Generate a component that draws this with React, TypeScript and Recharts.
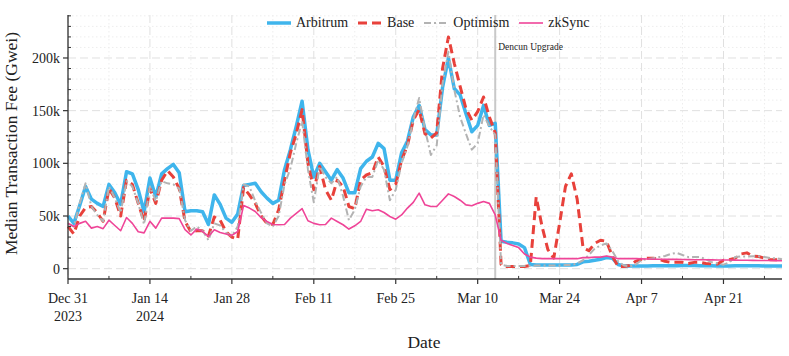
import React from 'react';
import { LineChart, Line, XAxis, YAxis, CartesianGrid, ReferenceLine } from 'recharts';

// median fee per day, in thousands of Gwei, day 0 = Dec 31 2023
const arbitrum = [
  50, 43, 60, 78, 66, 62, 59, 80, 72, 61,
  92, 90, 75, 54, 86, 68, 90, 95, 99, 91,
  54, 55, 55, 54, 42, 70, 61, 48, 44, 52,
  79, 80, 81, 73, 67, 62, 65, 94, 113, 135,
  159, 113, 87, 100, 92, 84, 94, 86, 72, 72,
  95, 102, 106, 119, 114, 84, 84, 110, 121, 144,
  155, 132, 127, 127, 172, 200, 171, 165, 147, 130,
  136, 155, 136, 138, 26, 25, 24.5, 23.5, 20, 4,
  3.5, 3.5, 3.5, 3.5, 3.5, 3.5, 3.5, 4, 6.5, 7,
  8, 9, 10.5, 10, 4, 2.5, 2.5, 2.5, 2.5, 2.5,
  2.8, 2.8, 2.8, 2.8, 2.8, 3, 3, 3, 2.8, 2.8,
  2.8, 2.6, 2.6, 2.6, 2.8, 2.8, 2.8, 2.8, 2.8, 2.6,
  2.6, 2.6, 2.6,
];

const base = [
  40, 33, 50, 58, 59, 53, 45, 76, 67, 50,
  84, 80, 62, 45, 76, 62, 84, 93, 87, 76,
  45, 35, 36, 36, 31, 49, 46, 35, 30, 28,
  77, 70, 62, 50, 43, 42, 56, 84, 110, 128,
  151, 100, 75, 97, 75, 65, 84, 78, 59, 57,
  84, 89, 91, 106, 97, 75, 80, 103, 117, 141,
  151, 128, 124, 129, 190, 220, 195, 173, 152, 141,
  149, 163, 144, 129, 4, 2, 2, 2, 2, 3,
  68, 40, 18, 10, 43, 78, 90, 66, 20, 17,
  24, 27, 26, 12, 2, 2, 3, 7, 9, 10,
  10, 9, 7, 6, 6, 6, 5, 6, 6, 5,
  4.5, 4.5, 8, 8.5, 10, 14, 15, 12, 11.5, 10,
  8.5, 8.5, 8,
];

const optimism = [
  43, 40, 62, 81, 59, 51, 45, 78, 67, 53,
  83, 78, 62, 42, 78, 64, 83, 81, 80, 76,
  46, 36, 40, 36, 27, 43, 41, 34, 31, 40,
  80, 78, 64, 53, 43, 40, 50, 80, 95, 119,
  140, 94, 63, 97, 87, 81, 87, 69, 46, 56,
  78, 87, 87, 103, 94, 65, 75, 100, 116, 141,
  162, 132, 108, 117, 176, 206, 170, 144, 128, 113,
  119, 146, 135, 127, 4, 2.5, 2.5, 2.5, 2.5, 2.5,
  3, 3, 3, 3, 3, 3.5, 3.5, 5, 8, 13,
  19, 22, 24, 17, 7, 3, 2, 4, 8, 9,
  10, 11, 12, 14, 15, 13, 11, 11, 11, 9,
  6, 5, 3.8, 6, 11, 11.7, 11.5, 11.7, 11.7, 11,
  10, 10, 9,
];

const zksync = [
  43, 40, 43, 45, 38.5, 40, 38, 46, 41, 36,
  48.6, 43, 35, 34, 45, 38.5, 48, 48, 48, 47.5,
  37, 32, 37.6, 35.3, 30.6, 37, 34.4, 33, 31.6, 35.3,
  60, 57.5, 54.3, 48.5, 44.8, 42, 41.7, 42, 48, 52.5,
  57, 45.5, 43, 41.7, 42, 48, 44.8, 41.7, 37.6, 40.7,
  44.8, 56.5, 55, 56, 53.3, 49.5, 47, 51, 57.5, 63,
  71.7, 60.6, 59, 59, 65, 71, 68.5, 65, 60.6, 59.7,
  62, 63.7, 62, 51, 27, 24, 22, 20, 14, 11,
  10, 9.5, 9.5, 9.5, 9.5, 9.5, 9.5, 9.5, 10.5, 10.5,
  11, 11, 12, 11, 9.5, 9.5, 9.5, 9.5, 9.3, 9.2,
  9, 9, 9, 8.8, 8.8, 8.7, 8.6, 8.5, 8.5, 8.5,
  8.4, 8.3, 8.2, 8.2, 8.1, 8, 8, 7.9, 7.8, 7.8,
  7.7, 7.6, 7.5,
];

const xMajorTicks = [0, 14, 28, 42, 56, 70, 84, 98, 112];
const xMinorTicks = [7, 21, 35, 49, 63, 77, 91, 105, 119];
const xTickLabels = ['Dec 31', 'Jan 14', 'Jan 28', 'Feb 11', 'Feb 25', 'Mar 10', 'Mar 24', 'Apr 7', 'Apr 21'];
const xTickYears = ['2023', '2024', '', '', '', '', '', '', ''];
const yMajorTicks = [0, 50, 100, 150, 200];
const yMinorTicks = [10, 20, 30, 40, 60, 70, 80, 90, 110, 120, 130, 140, 160, 170, 180, 190, 210, 220, 230, 240];
const dencunDay = 73;

const data = arbitrum.map((v, i) => ({
  day: i,
  arbitrum: v,
  base: base[i],
  optimism: optimism[i],
  zksync: zksync[i],
}));

const font = '"Liberation Serif", "Times New Roman", serif';
const axisColor = '#333';
const textColor = '#222';

const series = [
  { key: 'arbitrum', name: 'Arbitrum', color: '#3fb5ec', width: 3.5, dash: undefined },
  { key: 'base', name: 'Base', color: '#e8413b', width: 3, dash: '9 5' },
  { key: 'optimism', name: 'Optimism', color: '#b3b3b3', width: 2, dash: '7 3 2 3' },
  { key: 'zksync', name: 'zkSync', color: '#ef4598', width: 1.6, dash: undefined },
];

function XTick({ x, y, payload }: any) {
  const i = xMajorTicks.indexOf(payload.value);
  if (i < 0) {
    return <line x1={x} y1={y} x2={x} y2={y - 3} stroke={axisColor} strokeWidth={1} />;
  }
  return (
    <g>
      <line x1={x} y1={y} x2={x} y2={y + 5} stroke={axisColor} strokeWidth={1.2} />
      <text x={x} y={y + 23.7} textAnchor="middle" fontSize={14} fill={textColor} fontFamily={font}>
        {xTickLabels[i]}
      </text>
      {xTickYears[i] && (
        <text x={x} y={y + 41.7} textAnchor="middle" fontSize={14} fill={textColor} fontFamily={font}>
          {xTickYears[i]}
        </text>
      )}
    </g>
  );
}

function YTick({ x, y, payload }: any) {
  const v = payload.value;
  if (!yMajorTicks.includes(v)) {
    return <line x1={x} y1={y} x2={x + 3} y2={y} stroke={axisColor} strokeWidth={1} />;
  }
  return (
    <g>
      <line x1={x - 5} y1={y} x2={x} y2={y} stroke={axisColor} strokeWidth={1.2} />
      <text x={x - 8} y={y + 5} textAnchor="end" fontSize={14} fill={textColor} fontFamily={font}>
        {v === 0 ? '0' : `${v}k`}
      </text>
    </g>
  );
}

function Legend() {
  return (
    <div
      style={{
        position: 'absolute',
        left: 267,
        top: 14,
        display: 'flex',
        alignItems: 'center',
        fontFamily: font,
        fontSize: 14,
        color: textColor,
        lineHeight: '18px',
      }}
    >
      {series.map((s) => (
        <div key={s.key} style={{ display: 'flex', alignItems: 'center', marginRight: 10 }}>
          <svg width={24} height={10} style={{ marginRight: 5 }}>
            <line x1={0} y1={5} x2={24} y2={5} stroke={s.color} strokeWidth={s.width} strokeDasharray={s.dash} />
          </svg>
          <span>{s.name}</span>
        </div>
      ))}
    </div>
  );
}

export default function App() {
  return (
    <div style={{ position: 'absolute', left: 0, top: 0, width: 789, height: 356, background: '#fff' }}>
      <LineChart width={789} height={356} data={data} margin={{ top: 15, right: 7, bottom: 0, left: 0 }}>
        <CartesianGrid
          stroke="#ededed"
          strokeDasharray="1.5 2.5"
          horizontalValues={yMinorTicks}
          verticalValues={xMinorTicks}
        />
        <CartesianGrid
          stroke="#e0e0e0"
          strokeDasharray="8 4"
          horizontalValues={yMajorTicks}
          verticalValues={xMajorTicks}
        />
        <XAxis
          dataKey="day"
          type="number"
          domain={[0, 122]}
          ticks={[...xMajorTicks, ...xMinorTicks].sort((a, b) => a - b)}
          interval={0}
          tickSize={0}
          tickMargin={0}
          tickLine={false}
          tick={(p: any) => <XTick {...p} />}
          height={77}
          axisLine={{ stroke: axisColor, strokeWidth: 1.3 }}
        />
        <YAxis
          type="number"
          domain={[-9.8, 240.8]}
          allowDataOverflow
          ticks={[...yMajorTicks, ...yMinorTicks].sort((a, b) => a - b)}
          interval={0}
          tickSize={0}
          tickMargin={0}
          tickLine={false}
          tick={(p: any) => <YTick {...p} />}
          width={68}
          axisLine={{ stroke: axisColor, strokeWidth: 1.3 }}
        />
        <ReferenceLine
          x={dencunDay}
          stroke="#c8c8c8"
          strokeWidth={2}
          label={(p: any) => (
            <text
              x={p.viewBox.x + 3}
              y={p.viewBox.y + 35}
              fontSize={9.5}
              fill={textColor}
              fontFamily={font}
            >
              Dencun Upgrade
            </text>
          )}
        />
        {series.map((s) => (
          <Line
            key={s.key}
            type="linear"
            dataKey={s.key}
            name={s.name}
            stroke={s.color}
            strokeWidth={s.width}
            strokeDasharray={s.dash}
            strokeLinejoin="round"
            dot={false}
            activeDot={false}
            isAnimationActive={false}
          />
        ))}
      </LineChart>
      <svg width={789} height={356} style={{ position: 'absolute', left: 0, top: 0, pointerEvents: 'none' }}>
        <text
          x={16.5}
          y={143.5}
          transform="rotate(-90 16.5 143.5)"
          textAnchor="middle"
          fontSize={17.5}
          fill={textColor}
          fontFamily={font}
        >
          Median Transaction Fee (Gwei)
        </text>
        <text x={424} y={348.3} textAnchor="middle" fontSize={17.5} fill={textColor} fontFamily={font}>
          Date
        </text>
      </svg>
      <Legend />
    </div>
  );
}
